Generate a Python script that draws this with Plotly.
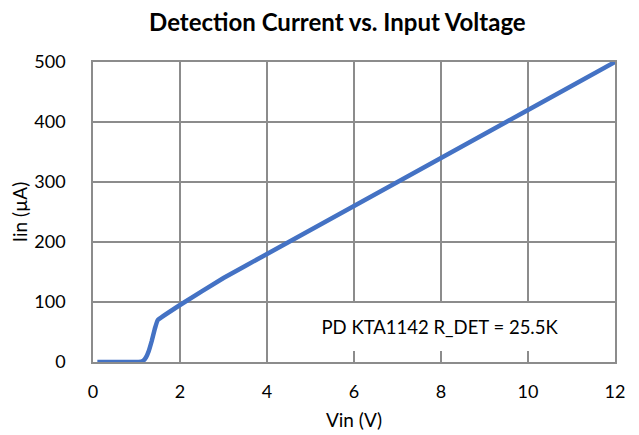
import plotly.graph_objects as go

vin = [0.1, 1.05, 1.15, 1.22, 1.28, 1.35, 1.42, 1.49, 2, 3, 4, 5, 6, 7, 8, 9, 10, 11, 12]
iin = [0, 0, 2, 8, 18, 35, 55, 70, 95, 140, 180, 220, 260, 300, 340, 380, 420, 460, 500]

x_ticks = [0, 2, 4, 6, 8, 10, 12]
y_ticks = [0, 100, 200, 300, 400, 500]

title_text = "Detection Current vs. Input Voltage"
note_text = "PD KTA1142 R_DET = 25.5K"

FONT = "Lato"
GRID = "#8c8c8c"

# page body has an 8px default margin, so the figure is sized to fit the 639x435 window
W, H = 631, 427

fig = go.Figure()
fig.add_trace(go.Scatter(x=vin, y=iin, mode="lines",
                         line=dict(color="#4472C4", width=4.5, shape="spline", smoothing=0.2),
                         showlegend=False, hoverinfo="skip"))

fig.update_layout(
    width=W, height=H,
    margin=dict(l=85, r=24, t=54, b=73),
    paper_bgcolor="white", plot_bgcolor="white",
    font=dict(family=FONT, size=18, color="#000000"),
    title=dict(text="<b>" + title_text + "</b>", x=0.522, xanchor="center",
               y=1 - 15 / H, yanchor="middle", font=dict(family=FONT, size=24, color="#000")),
    xaxis=dict(range=[0, 12], tickvals=x_ticks, showgrid=True, gridcolor=GRID, gridwidth=1.5,
               showline=True, linecolor=GRID, linewidth=1.5, mirror=True, zeroline=False,
               ticks="", ticklabelstandoff=13, automargin=False,
               title=dict(text="Vin (V)", font=dict(size=19), standoff=12),
               tickfont=dict(size=18)),
    yaxis=dict(range=[0, 500], tickvals=y_ticks, showgrid=True, gridcolor=GRID, gridwidth=1.5,
               showline=True, linecolor=GRID, linewidth=1.5, mirror=True, zeroline=False,
               ticks="", ticklabelstandoff=22, automargin=False,
               title=dict(text="Iin (µA)", font=dict(size=19), standoff=2),
               tickfont=dict(size=18)),
)

fig.add_annotation(x=7.98, y=58, xref="x", yref="y", text=note_text, showarrow=False,
                   font=dict(family=FONT, size=18.5, color="#000"),
                   bgcolor="white", borderpad=0, borderwidth=0,
                   width=342, height=48, align="center")

fig.write_html("out.html")
